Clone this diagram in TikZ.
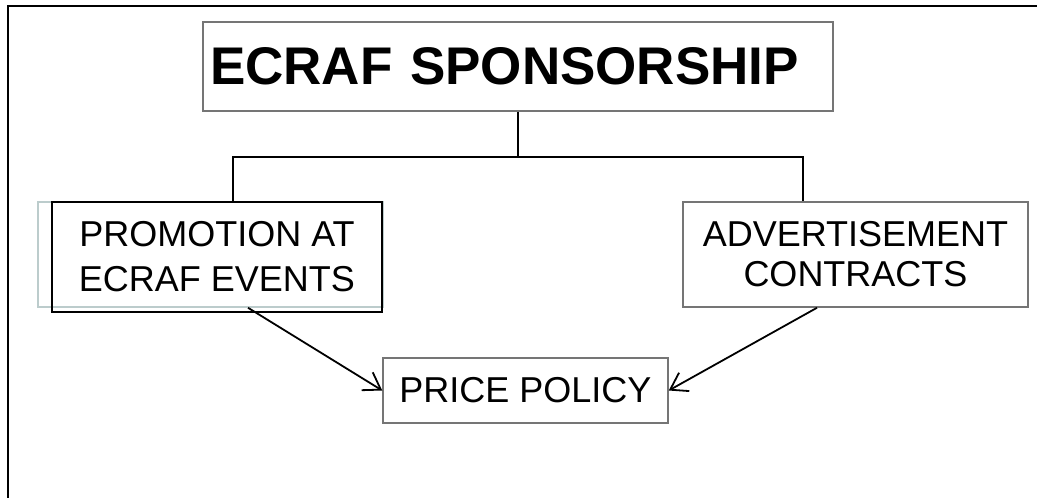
\documentclass[tikz,border=0pt]{standalone}
\usepackage{fontspec}
\setmainfont{Liberation Sans}
\usetikzlibrary{arrows.meta}
\definecolor{boxgray}{HTML}{757575}
\definecolor{shadeblue}{HTML}{BCCCCC}
\tikzset{
  box/.style={draw=boxgray, line width=1.5pt, inner sep=0pt, align=center,
    font=\fontsize{36}{40}\selectfont},
  conn/.style={line width=2pt, draw=black},
  arr/.style={line width=1.8pt, draw=black, -{Straight Barb[length=16pt,width=21pt]}},
  frame/.style={line width=2.2pt, draw=black}
}
\begin{document}
\begin{tikzpicture}[x=1pt,y=1pt]
\useasboundingbox (0,0) rectangle (1037,-498);
% outer frame (only top and left edges visible)
\draw[frame] (8,-498) -- (8,-6) -- (1037,-6);
% title
\node[box, minimum width=630pt, minimum height=89pt, text width=616pt,
      inner xsep=7pt, align=left, font=\fontsize{53}{60}\selectfont\bfseries]
  (title) at (518,-66.5) {ECRAF SPONSORSHIP};
% left box with offset shade outline
\node[draw=shadeblue, line width=1.5pt, minimum width=345pt, minimum height=105pt, inner sep=0pt]
  (promoshade) at (210.5,-254.5) {};
\node[box, draw=black, line width=2pt, minimum width=330pt, minimum height=110pt,
      font=\fontsize{36}{45}\selectfont]
  (promo) at (217,-257) {PROMOTION AT\\ECRAF EVENTS};
% right box
\node[box, minimum width=345pt, minimum height=105pt]
  (advert) at (855.5,-254.5) {ADVERTISEMENT\\CONTRACTS};
% price policy
\node[box, minimum width=285pt, minimum height=65pt]
  (price) at (525.5,-390.5) {PRICE POLICY};
% connectors
\coordinate (hub) at (518,-157);
\draw[conn] (title.south) -- (hub);
\draw[conn] ([xshift=16pt]promo.north) |- (hub) -| ([xshift=-52.5pt]advert.north);
\draw[arr] ([xshift=37.5pt]promoshade.south) -- (price.west);
\draw[arr] ([xshift=-38.5pt]advert.south) -- (price.east);
\end{tikzpicture}
\end{document}
